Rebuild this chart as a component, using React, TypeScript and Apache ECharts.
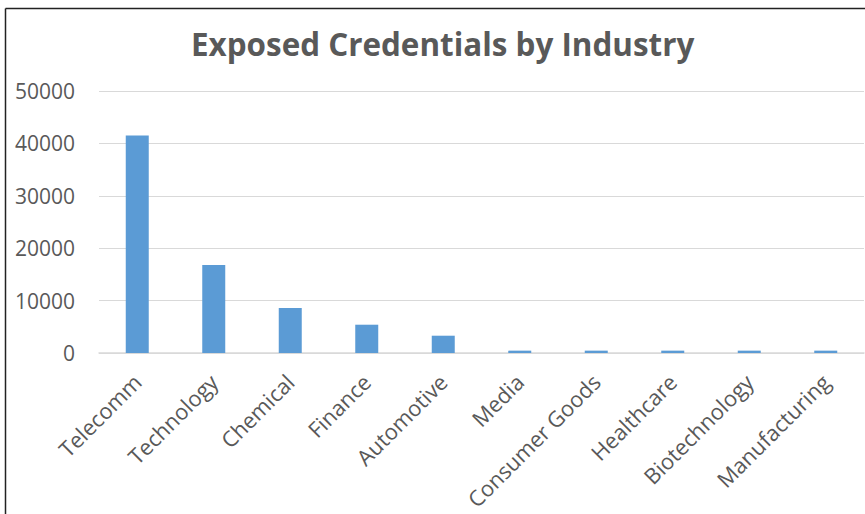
import React, { useEffect, useRef } from "react";
import * as echarts from "echarts";

const categories = [
  "Telecomm",
  "Technology",
  "Chemical",
  "Finance",
  "Automotive",
  "Media",
  "Consumer Goods",
  "Healthcare",
  "Biotechnology",
  "Manufacturing",
];
const credentials = [41500, 16800, 8600, 5400, 3300, 450, 450, 450, 450, 450];
const titleText = "Exposed Credentials by Industry";

export default function App() {
  const ref = useRef<HTMLDivElement>(null);
  useEffect(() => {
    document.body.style.margin = "0";
    const chart = echarts.init(ref.current!, null, { renderer: "svg" });
    const font = "'Open Sans', 'Liberation Sans', sans-serif";
    chart.setOption({
      animation: false,
      backgroundColor: "#ffffff",
      title: {
        text: titleText,
        left: 186,
        top: 23,
        textStyle: {
          fontFamily: font,
          fontSize: 31.4,
          fontWeight: "bold",
          color: "#595959",
        },
      },
      graphic: [
        {
          type: "line",
          shape: { x1: 5.5, y1: 8.5, x2: 865, y2: 8.5 },
          style: { stroke: "#222", lineWidth: 1.5 },
        },
        {
          type: "line",
          shape: { x1: 5.5, y1: 8.5, x2: 5.5, y2: 514 },
          style: { stroke: "#222", lineWidth: 1.5 },
        },
      ],
      grid: { left: 99, right: 1, top: 91, bottom: 161, containLabel: false },
      xAxis: {
        type: "category",
        data: categories,
        axisLine: { lineStyle: { color: "#D9D9D9", width: 1.5 } },
        axisTick: { show: false },
        axisLabel: {
          rotate: 45,
          interval: 0,
          margin: 25,
          fontFamily: font,
          fontSize: 21.8,
          color: "#595959",
        },
      },
      yAxis: {
        type: "value",
        min: 0,
        max: 50000,
        interval: 10000,
        axisLine: { show: false },
        axisTick: { show: false },
        splitLine: { lineStyle: { color: "#D9D9D9", width: 1 } },
        axisLabel: {
          margin: 24,
          fontFamily: font,
          fontSize: 21,
          color: "#595959",
          formatter: (v: number) => String(v),
        },
      },
      series: [
        {
          type: "bar",
          data: credentials,
          barWidth: 23,
          itemStyle: { color: "#5B9BD5" },
        },
      ],
    });
    return () => chart.dispose();
  }, []);
  return <div ref={ref} style={{ width: 865, height: 514 }} />;
}
